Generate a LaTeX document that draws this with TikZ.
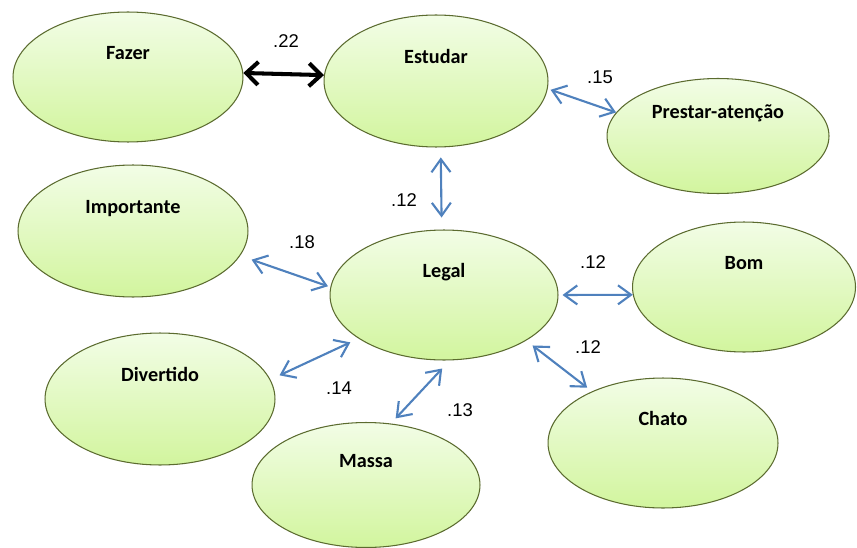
\documentclass[tikz,border=0pt]{standalone}
\usepackage{fontspec}
\setmainfont{Carlito}
\newfontfamily\numfont{Liberation Sans}
\usetikzlibrary{arrows.meta,shapes.geometric}
\definecolor{rim}{HTML}{5B6B2F}
\definecolor{filltop}{HTML}{F2FDE6}
\definecolor{fillbot}{HTML}{D2F59E}
\definecolor{linkblue}{HTML}{4F81BD}
\newcommand{\lift}[1]{\raisebox{0.35cm}[0pt][0pt]{#1}}
\tikzset{
    barb/.tip={Straight Barb[length=2.6mm,width=3.8mm]},
    bigbarb/.tip={Straight Barb[length=2.4mm,width=4.6mm]}
}

\begin{document}
\begin{tikzpicture}[x=0.02cm,y=-0.02cm,
    word/.style={ellipse,draw=rim,line width=0.6pt,top color=filltop,bottom color=fillbot,
        inner sep=0pt,minimum width=4.56cm,minimum height=2.6cm,
        font=\fontsize{11.5}{13}\selectfont\bfseries},
    link/.style={barb-barb,color=linkblue,line width=1.2pt},
    weight/.style={font=\numfont\fontsize{10.5}{12}\selectfont}]
    \useasboundingbox (0,0) rectangle (857,547);

    \node[word, minimum width=4.6cm] (fazer) at (128,77) {\lift{Fazer}};
    \node[word, minimum width=4.48cm, minimum height=2.64cm] (estudar) at (436,81) {\lift{Estudar}};
    \node[word, minimum width=4.44cm, minimum height=2.3cm] (prestar) at (718,136) {\lift{Prestar-atenção}};
    \node[word, minimum width=4.6cm, minimum height=2.64cm] (importante) at (133,231) {\lift{Importante}};
    \node[word] (legal) at (444,295) {\lift{Legal}};
    \node[word, minimum width=4.46cm] (bom) at (744,287) {\lift{Bom}};
    \node[word, minimum width=4.6cm, minimum height=2.64cm] (divertido) at (160,399) {\lift{Divertido}};
    \node[word, minimum height=2.5cm] (massa) at (366,485) {\lift{Massa}};
    \node[word, minimum width=4.6cm] (chato) at (663,443) {\lift{Chato}};

    \path [bigbarb-bigbarb, color=black, line width=2.3pt] (fazer.2) edge (estudar.177);
    \path [link] (estudar.-4.5) edge[shorten <=0.06cm] (prestar.167);
    \path [link] (estudar.-86) edge[shorten <=0.2cm, shorten >=0.24cm] (legal.92);
    \path [link] (importante.-13) edge[shorten <=0.24cm, shorten >=0.05cm] (legal.176);
    \path [link] (legal.0) edge[shorten <=0.08cm] (bom.184);
    \path [link] (legal.207) edge[shorten <=0.18cm, shorten >=0.2cm] (divertido.10);
    \path [link] (legal.-85) edge[shorten <=0.22cm, shorten >=0.14cm] (massa.68);
    \path [link] (legal.-29) edge[shorten <=0.16cm, shorten >=0.12cm] (chato.144);

    \node[weight] (w22) at (286,41) {.22};
    \node[weight] (w15) at (600,77) {.15};
    \node[weight] (w12a) at (404,200) {.12};
    \node[weight] (w18) at (302,242) {.18};
    \node[weight] (w12b) at (593,262) {.12};
    \node[weight] (w12c) at (588,347) {.12};
    \node[weight] (w14) at (339,388) {.14};
    \node[weight] (w13) at (460,410) {.13};

\end{tikzpicture}
\end{document}
